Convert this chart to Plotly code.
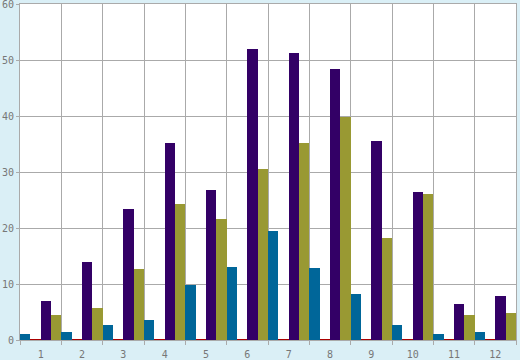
import plotly.graph_objects as go

categories = [str(i) for i in range(1, 13)]
blue_vals = [1.0, 1.4, 2.7, 3.6, 9.9, 13.1, 19.5, 12.8, 8.2, 2.7, 1.1, 1.4]
red_vals = [0.17] * 12
purple_vals = [7.0, 14.0, 23.4, 35.1, 26.8, 52.0, 51.3, 48.4, 35.6, 26.5, 6.5, 7.9]
olive_vals = [4.5, 5.8, 12.6, 24.2, 21.6, 30.6, 35.1, 39.9, 18.3, 26.1, 4.5, 4.9]
y_ticks = [0, 10, 20, 30, 40, 50, 60]

series = [
    ("Blue", blue_vals, "#006699"),
    ("Red", red_vals, "#AA0000"),
    ("Purple", purple_vals, "#330066"),
    ("Olive", olive_vals, "#999933"),
]

fig = go.Figure()
for name, vals, color in series:
    fig.add_trace(go.Bar(x=categories, y=vals, name=name,
                         marker=dict(color=color, line=dict(width=0))))

axis_font = dict(family="DejaVu Sans Mono", size=10, color="#777777")
fig.update_layout(
    width=520, height=360,
    margin=dict(l=20, r=4, t=4, b=20, autoexpand=False),
    paper_bgcolor="#DAEFF6",
    plot_bgcolor="#FFFFFF",
    barmode="group", bargap=0, bargroupgap=0,
    showlegend=False,
    xaxis=dict(type="category", tickson="boundaries", showgrid=True,
               automargin=False, ticklabelstandoff=5,
               gridcolor="#AAAAAA", gridwidth=1,
               showline=True, linecolor="#AAAAAA", linewidth=1, mirror=True,
               ticks="outside", ticklen=4, tickcolor="#AAAAAA",
               tickfont=axis_font),
    yaxis=dict(range=[0, 60], tickvals=y_ticks, showgrid=True,
               automargin=False, ticklabeloverflow="allow",
               gridcolor="#AAAAAA", gridwidth=1, zeroline=False,
               showline=True, linecolor="#AAAAAA", linewidth=1, mirror=True,
               ticks="outside", ticklen=3, tickcolor="#AAAAAA",
               tickfont=axis_font),
)

fig.write_html("out.html", config={"displayModeBar": False},
               post_script="document.body.style.margin='0';document.body.style.overflow='hidden';")
